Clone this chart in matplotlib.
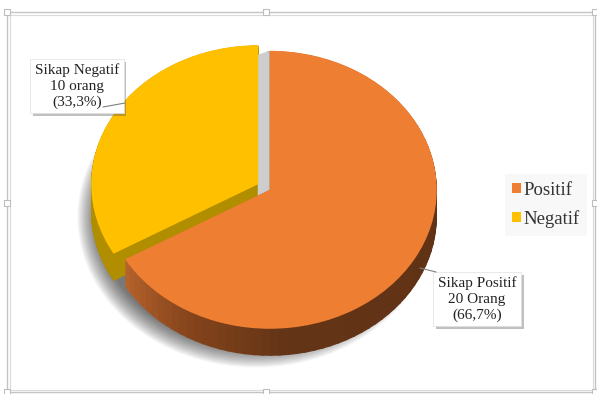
import matplotlib.pyplot as plt
import matplotlib.patheffects as pe
from matplotlib.patches import Ellipse, Rectangle, Wedge, Polygon
import numpy as np

# data
labels = ["Positif", "Negatif"]
counts = [20, 10]
box_texts = ["Sikap Positif\n20 Orang\n(66,7%)", "Sikap Negatif\n10 orang\n(33,3%)"]
colors = ["#EE7E32", "#FFC000"]

W, H = 597, 394
CX, CY = 264, 187      # pie centre in pixels (from top-left)
RX, RY = 167, 139      # ellipse radii in pixels
DEPTH = 27             # thickness of the 3d side
EXPLODE = 0.04

def dx(px):
    return (px - CX) / RX

def dy(py):
    return (CY - py) / RY

fig = plt.figure(figsize=(W / 100, H / 100), dpi=100)
ax = fig.add_axes([0, 0, 1, 1])

# wedge geometry (clockwise from 12 o'clock, like the pie below)
fracs = np.array(counts) / sum(counts)
ends = 90 - 360 * np.cumsum(fracs)
starts = np.r_[90, ends[:-1]]
mids = (starts + ends) / 2
centres = [(EXPLODE * np.cos(np.radians(m)), EXPLODE * np.sin(np.radians(m))) for m in mids]

# soft shadow under the pie
for k in range(16):
    ax.add_patch(Ellipse((dx(CX - 8), dy(CY + 30)),
                         2 * (RX - 8 + k * 1.3) / RX, 2 * (RY - 8 + k * 1.3) / RY,
                         facecolor="black", edgecolor="none", alpha=0.045, zorder=1))

# orange side colour by angle
stops_a = [-150, -120, -85, 90]
stops_c = np.array([[0xB8, 0x64, 0x2C], [0x86, 0x45, 0x1C], [0x64, 0x34, 0x16], [0x5C, 0x30, 0x14]]) / 255
def side_col(a):
    return tuple(np.interp(a, stops_a, stops_c[:, i]) for i in range(3))

yellow_side = "#B08E00"
for d in np.linspace(DEPTH, 0.5, 28):
    off = d / RY
    # yellow side (back slice)
    cx, cy = centres[1]
    ax.add_patch(Wedge((cx, cy - off), 1, ends[1], starts[1], facecolor=yellow_side,
                       edgecolor=yellow_side, lw=0.3, zorder=2))
    # orange side, split for shading
    cx, cy = centres[0]
    edges = np.linspace(ends[0], starts[0], 81)
    for a0, a1 in zip(edges[:-1], edges[1:]):
        c = side_col((a0 + a1) / 2)
        ax.add_patch(Wedge((cx, cy - off), 1, a0, a1 + 0.8, facecolor=c, edgecolor="none",
                           zorder=2))

# light cut face between the slices
ox, oy = centres[0]
ax.add_patch(Polygon([(ox - 12 / RX, oy + 1 - 4 / RY), (ox, oy + 1), (ox, oy), (ox - 12 / RX, oy - 6 / RY)],
                     facecolor="#CDCDCD", edgecolor="none", zorder=2.5))

# top faces
wedges, _ = ax.pie(counts, colors=colors, startangle=90, counterclock=False,
                   explode=[EXPLODE] * len(counts), radius=1,
                   wedgeprops=dict(linewidth=0, zorder=3))
for w in wedges:
    w.set_zorder(3)

ax.set_aspect("auto")
ax.set_xlim(dx(0), dx(W))
ax.set_ylim(dy(H), dy(0))
ax.axis("off")

# data label boxes
box_pos = [(477, 299), (77, 86)]
for txt, (bx, by) in zip(box_texts, box_pos):
    t = ax.text(dx(bx), dy(by), txt, ha="center", va="center", fontsize=11,
                family="Liberation Serif", color="#222222", linespacing=1.25, zorder=6,
                bbox=dict(boxstyle="square,pad=0.3", fc="white", ec="#E0E0E0", lw=0.5))
    t.get_bbox_patch().set_path_effects([pe.SimplePatchShadow(offset=(2, -2), alpha=0.35),
                                         pe.Normal()])

# leader lines
leaders = [((420, 268), (436, 272)), ((125, 103), (103, 107))]
for (x0, y0), (x1, y1) in leaders:
    ax.annotate("", xy=(dx(x0), dy(y0)), xytext=(dx(x1), dy(y1)), zorder=7,
                arrowprops=dict(arrowstyle="-", color="#808080", lw=0.8, shrinkA=0, shrinkB=0))

# legend
handles = [Rectangle((0, 0), 1, 1, facecolor=c) for c in colors]
leg = fig.legend(handles, labels, loc="center", bbox_to_anchor=(546 / W, 1 - 205 / H),
                 prop=dict(family="Liberation Serif", size=13.5), frameon=True,
                 handlelength=0.45, handleheight=0.45, handletextpad=0.15,
                 labelspacing=0.6, borderpad=0.4, fancybox=False)
leg.get_frame().set_facecolor("#F7F7F7")
leg.get_frame().set_edgecolor("none")
for t in leg.get_texts():
    t.set_color("#333333")

# selection frame with handles
fig.patches.append(Rectangle((7 / W, 1 - 392 / H), 588 / W, 380 / H, transform=fig.transFigure,
                             fill=False, edgecolor="#C4C4C4", lw=1))
fig.patches.append(Rectangle((10 / W, 1 - 390 / H), 583 / W, 375 / H, transform=fig.transFigure,
                             fill=False, edgecolor="#DADADA", lw=0.8))
for hx in (7, 266, 595):
    for hy in (12, 203, 392):
        if hx == 266 and hy == 203:
            continue
        fig.patches.append(Rectangle(((hx - 3) / W, 1 - (hy + 3) / H), 6 / W, 6 / H,
                                     transform=fig.transFigure, facecolor="white",
                                     edgecolor="#BDBDBD", lw=0.8))

fig.savefig("out.png", dpi=100)
